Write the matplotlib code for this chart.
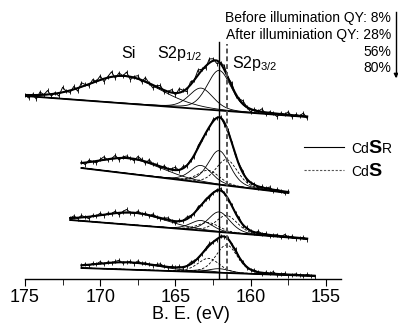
import numpy as np
import matplotlib
matplotlib.use('Agg')
from matplotlib import pyplot as plt
from matplotlib.ticker import MultipleLocator

plt.rcParams['font.family'] = ['Liberation Sans', 'DejaVu Sans']
plt.rcParams['mathtext.default'] = 'regular'

# binding energies of the fitted peaks (eV)
si_pos = [168.4, 168.0, 167.8, 168.2]
cdsr_pos = [162.1, 163.3]   # S2p3/2, S2p1/2
cds_pos = [161.6, 162.8]

# per spectrum, top to bottom (arbitrary units, stacked)
start_be = [175.0, 171.25, 172.0, 171.25]
bg_left = [183, 111, 59, 11]
bg_right = [162, 86, 40, 3]
si_height = [27, 15, 12, 7]
si_fwhm = [5.6, 5.0, 5.0, 5.0]
cdsr_h = [[40, 21], [34, 17], [20, 10], [4, 2]]
cds_h = [[0, 0], [26, 13], [17, 8.5], [28, 14]]
s_fwhm = [1.9, 1.7, 1.7, 1.7]

# measured points minus fit envelope, 0.25 eV steps
resid = [
    [0,-3,1,-4,3,0,4,-2,1,-3,5,0,-2,3,-3,4,1,-2,3,0,
     4,-3,1,5,-2,3,0,4,-3,1,3,-2,4,0,-3,1,3,-2,0,3,
     -2,4,1,-3,3,0,5,1,-2,4,2,-3,1,4,0,3,-2,1,3,0,
     -3,1,0,3,-2,1,0,-3,1,0,3,-2,1,0,3,-2],
    [1,-2,2,0,-2,1,3,-1,0,3,-2,1,2,0,-2,3,1,-2,3,0,
     1,-2,2,0,1,3,-1,2,0,1,-2,2,1,0,-1,2,0,1,-2,2,
     0,-1,1,2,-2,0,1,-2,1,0,2,-1,1,0,-2,1],
    [0,2,-1,2,0,-2,1,0,2,-1,1,0,2,-2,1,3,0,-1,2,0,
     1,-1,2,0,-1,1,2,0,-2,1,0,2,1,-1,2,0,1,-2,0,1,
     2,0,-1,1,0,2,-1,1,0,-1,2,0,1,-1,0,1,-1,2,0,1,
     -1,0,1,-1],
    [0,1,-1,1,0,2,-1,1,0,1,2,-1,0,1,-1,2,0,1,0,-1,
     1,2,0,-1,1,0,1,-1,0,2,1,-1,0,1,2,0,-1,1,0,1,
     -1,2,0,1,-1,0,1,0,-1,1,0,2,-1,0,1,-1,0,1,0,-1,
     1,0,-1],
]

text_lines = ['Before illumination QY: 8%', 'After illuminiation QY: 28%', '56%', '80%']


def pv(x, c, h, w, eta=0.3):
    g = np.exp(-4 * np.log(2) * (x - c) ** 2 / w ** 2)
    l = 1 / (1 + 4 * (x - c) ** 2 / w ** 2)
    return h * ((1 - eta) * g + eta * l)


W, H = 398, 327
fig = plt.figure(figsize=(W / 100, H / 100), dpi=100)
ax = fig.add_axes([25 / W, 48 / H, 316 / W, 279 / H])

for i in range(4):
    n = len(resid[i])
    end_be = start_be[i] - 0.25 * (n - 1)
    xf = np.linspace(start_be[i], end_be, 400)
    xd = start_be[i] - 0.25 * np.arange(n)

    def bg(x):
        return bg_left[i] + (bg_right[i] - bg_left[i]) * (start_be[i] - x) / (start_be[i] - end_be)

    def model(x):
        y = bg(x) + pv(x, si_pos[i], si_height[i], si_fwhm[i], 0.1)
        for c, h in zip(cdsr_pos, cdsr_h[i]):
            y = y + pv(x, c, h, s_fwhm[i])
        for c, h in zip(cds_pos, cds_h[i]):
            y = y + pv(x, c, h, s_fwhm[i])
        return y

    ax.plot(xf, bg(xf), color='k', lw=1.3)
    ax.plot(xf, bg(xf) + pv(xf, si_pos[i], si_height[i], si_fwhm[i], 0.1), color='k', lw=0.6)
    for c, h in zip(cdsr_pos, cdsr_h[i]):
        if h > 0:
            ax.plot(xf, bg(xf) + pv(xf, c, h, s_fwhm[i]), color='k', lw=0.6)
    for c, h in zip(cds_pos, cds_h[i]):
        if h > 0:
            ax.plot(xf, bg(xf) + pv(xf, c, h, s_fwhm[i]), color='k', lw=0.6, ls=(0, (3, 2)))
    ax.plot(xd, model(xd) + np.array(resid[i]), color='k', lw=0.7, marker='|', ms=3, mew=0.6)
    ax.plot(xf, model(xf), color='k', lw=1.5)

ax.axvline(cdsr_pos[0], ymin=0, ymax=(279 - 42) / 279, color='k', lw=1.0)
ax.axvline(cds_pos[0], ymin=0, ymax=(279 - 44) / 279, color='#555555', lw=1.4, ls=(0, (2.5, 1.5)))

ax.set_xlim(175, 154)
ax.set_ylim(0, 279)
ax.set_yticks([])
for s in ['left', 'right', 'top']:
    ax.spines[s].set_visible(False)
ax.spines['bottom'].set_linewidth(1.0)
ax.xaxis.set_major_locator(MultipleLocator(5))
ax.xaxis.set_minor_locator(MultipleLocator(2.5))
ax.tick_params(axis='x', which='major', direction='out', length=5, labelsize=13, pad=2)
ax.tick_params(axis='x', which='minor', direction='out', length=4)
ax.set_xlabel('B. E. (eV)', fontsize=13)
ax.xaxis.set_label_coords((191 - 25) / 316, -(306 - 279) / 279)
ax.patch.set_alpha(0)


def fx(px):
    return px / W


def fy(py):
    return 1 - py / H


fig.text(fx(128), fy(53), 'Si', fontsize=11.5, ha='center', va='center')
fig.text(fx(157), fy(58), 'S2p$_{1/2}$', fontsize=11.5, ha='left', va='baseline')
fig.text(fx(232), fy(68), 'S2p$_{3/2}$', fontsize=11.5, ha='left', va='baseline')

for k, t in enumerate(text_lines):
    fig.text(fx(391), fy([18, 35, 52, 68][k]), t, fontsize=10, ha='right', va='center')
fig.add_artist(plt.Line2D([fx(396), fx(396)], [fy(12), fy(76)], color='k', lw=1.0))
ax.annotate('', xy=(fx(396), fy(81)), xycoords='figure fraction',
            xytext=(fx(396), fy(72)), textcoords='figure fraction',
            arrowprops=dict(arrowstyle='-|>', color='k', lw=1.0, mutation_scale=6))

# legend
fig.add_artist(plt.Line2D([fx(304), fx(344)], [fy(147), fy(147)], color='k', lw=0.8))
fig.add_artist(plt.Line2D([fx(304), fx(344)], [fy(170), fy(170)], color='#555555', lw=0.8,
                          ls=(0, (2, 1.5))))
renderer = fig.canvas.get_renderer()
for py, parts in [(147, [('Cd', 10, 'normal'), ('S', 14, 'bold'), ('R', 10, 'normal')]),
                  (170, [('Cd', 10, 'normal'), ('S', 14, 'bold')])]:
    x0 = 351
    for s, size, weight in parts:
        t = fig.text(fx(x0), fy(py + 6), s, fontsize=size, fontweight=weight,
                     ha='left', va='baseline')
        x0 += t.get_window_extent(renderer).width

fig.savefig('out.png', dpi=100)
